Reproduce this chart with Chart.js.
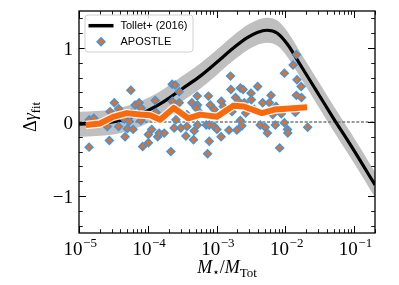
<!DOCTYPE html>
<html>
<head>
<meta charset="utf-8">
<script src="https://cdn.jsdelivr.net/npm/chart.js@4.4.1/dist/chart.umd.min.js"></script>
<style>
html,body{margin:0;padding:0;background:#fff;}
canvas{display:block;}
</style>
</head>
<body>
<canvas id="c" width="399" height="285"></canvas>
<script>
// ---------- data ----------
const xTickValues = [1e-5, 1e-4, 1e-3, 1e-2, 1e-1];
const xTickExps = ['\u22125', '\u22124', '\u22123', '\u22122', '\u22121'];
const yTickValues = [-1, 0, 1];
const yTickLabels = ['\u22121', '0', '1'];
const zeroLine = 0;

const tolletX = [1.0e-5,1.77e-5,3.13e-5,5.52e-5,9.77e-5,1.73e-4,3.16e-4,5.77e-4,9.87e-4,1.75e-3,2.79e-3,3.90e-3,5.40e-3,7.62e-3,1.07e-2,1.65e-2,2.91e-2,4.98e-2,8.81e-2,0.2];
const tolletY = [-0.03,-0.02,0.00,0.06,0.15,0.28,0.45,0.62,0.80,1.00,1.14,1.21,1.24,1.20,1.05,0.77,0.40,0.05,-0.31,-0.85];
const tolletUpper = [0.14,0.15,0.17,0.23,0.32,0.45,0.62,0.79,0.97,1.17,1.31,1.38,1.41,1.37,1.22,0.94,0.57,0.22,-0.14,-0.68];
const tolletLower = [-0.20,-0.19,-0.17,-0.11,-0.02,0.11,0.28,0.45,0.63,0.83,0.97,1.04,1.07,1.03,0.88,0.60,0.23,-0.12,-0.48,-1.02];

const medianX = [1.26e-5,2.02e-5,3.13e-5,4.94e-5,7.73e-5,1.08e-4,1.51e-4,2.38e-4,3.86e-4,5.77e-4,1.01e-3,1.75e-3,2.47e-3,4.56e-3,7.13e-3,2.06e-2];
const medianY = [-0.04,-0.02,0.07,0.12,0.10,0.09,0.03,0.19,0.05,0.10,0.07,0.22,0.21,0.12,0.17,0.20];

const apostleX = [1.41e-5,1.64e-5,1.40e-5,2.58e-5,2.76e-5,2.83e-5,3.26e-5,3.76e-5,3.78e-5,4.57e-5,
4.67e-5,5.05e-5,5.66e-5,5.85e-5,5.35e-5,6.11e-5,6.53e-5,7.47e-5,7.98e-5,7.91e-5,
8.83e-5,8.40e-5,1.02e-4,1.02e-4,1.14e-4,1.28e-4,1.32e-4,1.39e-4,1.46e-4,1.73e-4,
2.16e-4,2.26e-4,2.50e-4,2.86e-4,2.26e-4,2.86e-4,1.89e-4,2.45e-4,2.56e-4,2.41e-4,
3.02e-4,3.57e-4,3.70e-4,4.37e-4,3.70e-4,4.72e-4,4.61e-4,5.22e-4,5.27e-4,5.05e-4,
5.27e-4,5.77e-4,7.06e-4,7.60e-4,8.07e-4,7.80e-4,7.80e-4,7.38e-4,9.23e-4,1.03e-3,
9.23e-4,1.01e-3,1.16e-3,1.17e-3,1.25e-3,1.51e-3,1.59e-3,1.61e-3,1.67e-3,1.88e-3,
1.70e-3,2.08e-3,1.97e-3,2.21e-3,2.42e-3,2.21e-3,2.33e-3,2.52e-3,2.64e-3,3.16e-3,
3.19e-3,3.52e-3,3.94e-3,4.29e-3,5.07e-3,5.46e-3,4.66e-3,5.83e-3,6.17e-3,6.52e-3,
7.30e-3,7.13e-3,8.24e-3,8.71e-3,9.64e-3,9.64e-3,1.07e-2,1.08e-2,1.29e-2,1.44e-2,
1.47e-2,1.69e-2,1.44e-2,1.71e-2,1.39e-2,2.10e-2];
const apostleY = [0.03,0.05,-0.34,-0.06,-0.25,0.14,0.26,-0.06,0.18,0.04,
-0.20,-0.09,0.43,0.12,0.01,-0.10,0.23,0.26,0.19,0.02,
0.08,-0.33,-0.28,-0.17,-0.10,0.29,0.13,-0.20,-0.15,-0.15,
-0.40,0.51,0.50,0.41,0.28,0.26,0.12,0.17,0.03,-0.08,
-0.08,-0.19,0.10,0.26,-0.06,-0.12,-0.24,0.35,0.23,0.19,
-0.04,0.12,-0.04,0.35,0.23,-0.04,-0.26,-0.43,0.17,0.08,
-0.06,-0.10,-0.20,0.28,0.21,-0.11,0.62,0.44,0.14,0.33,
0.21,0.28,-0.11,0.46,0.44,0.02,-0.05,0.26,0.12,0.39,
0.30,0.17,0.48,-0.04,-0.07,-0.15,0.26,0.26,0.36,0.10,
0.21,-0.04,-0.35,0.11,0.66,-0.01,-0.10,-0.15,0.77,0.91,
0.57,0.48,0.36,0.33,0.13,-0.07];

// ---------- styles ----------
const ORANGE = '#fb6a0a';
const BLUE = '#3a96e8';
const SERIF = '"Liberation Serif", "DejaVu Serif", serif';
const SANS = '"Liberation Sans", Arial, sans-serif';

const pts = (xs, ys) => xs.map((x, i) => ({x: x, y: ys[i]}));

const deco = {
  id: 'deco',
  beforeDatasetsDraw(chart) {
    const {ctx, chartArea: a, scales: {y}} = chart;
    const py = y.getPixelForValue(zeroLine);
    ctx.save();
    ctx.strokeStyle = '#000';
    ctx.lineWidth = 0.8;
    ctx.setLineDash([3, 1.7]);
    ctx.beginPath(); ctx.moveTo(a.left, py); ctx.lineTo(a.right, py); ctx.stroke();
    ctx.restore();
  },
  afterDraw(chart) {
    const {ctx, chartArea: a, scales: {x, y}} = chart;
    ctx.save();
    // ticks
    ctx.strokeStyle = '#000';
    const tick = (px, isX, len, w) => {
      ctx.lineWidth = w;
      ctx.beginPath();
      if (isX) {
        ctx.moveTo(px, a.bottom); ctx.lineTo(px, a.bottom - len);
        ctx.moveTo(px, a.top); ctx.lineTo(px, a.top + len);
      } else {
        ctx.moveTo(a.left, px); ctx.lineTo(a.left + len, px);
        ctx.moveTo(a.right, px); ctx.lineTo(a.right - len, px);
      }
      ctx.stroke();
    };
    for (let k = -5; k <= -1; k++) {
      for (let m = 1; m <= 9; m++) {
        const v = m * Math.pow(10, k);
        if (v < x.min * 0.999 || v > x.max * 1.001) continue;
        const px = Math.round(x.getPixelForValue(v)) + 0.5;
        if (m === 1) tick(px, true, 7, 1); else tick(px, true, 3.8, 0.9);
      }
    }
    for (let i = -7; i <= 7; i++) {
      const v = i * 0.2;
      const py = Math.round(y.getPixelForValue(v)) + 0.5;
      tick(py, false, 3.8, 0.9);
    }
    yTickValues.forEach(v => {
      const py = Math.round(y.getPixelForValue(v)) + 0.5;
      tick(py, false, 7, 1);
    });
    // spines
    ctx.lineWidth = 1.3;
    ctx.strokeRect(a.left, a.top, a.right - a.left, a.bottom - a.top);

    // tick labels
    ctx.fillStyle = '#000';
    ctx.textBaseline = 'alphabetic';
    xTickValues.forEach((v, i) => {
      const px = x.getPixelForValue(v);
      ctx.font = '19px ' + SERIF;
      const w1 = ctx.measureText('10').width;
      ctx.font = '13px ' + SERIF;
      const w2 = ctx.measureText(xTickExps[i]).width;
      const x0 = px - (w1 + w2) / 2 + 1;
      ctx.font = '19px ' + SERIF;
      ctx.textAlign = 'left';
      ctx.fillText('10', x0, 255);
      ctx.font = '13px ' + SERIF;
      ctx.fillText(xTickExps[i], x0 + w1 + 0.5, 247);
    });
    ctx.font = '19px ' + SERIF;
    ctx.textAlign = 'right';
    yTickValues.forEach((v, i) => {
      const py = y.getPixelForValue(v);
      ctx.fillText(yTickLabels[i], 73, py + 6.5);
    });

    // x title: M_star / M_Tot
    const parts = [
      {t: 'M', f: 'italic 18px ' + SERIF, dy: 0},
      {t: '\u22C6', f: '12px "DejaVu Sans", sans-serif', dy: 3},
      {t: '/', f: '18px ' + SERIF, dy: 0},
      {t: 'M', f: 'italic 18px ' + SERIF, dy: 0},
      {t: 'Tot', f: '13px ' + SERIF, dy: 3.5}
    ];
    let tw = 0;
    parts.forEach(p => { ctx.font = p.f; p.w = ctx.measureText(p.t).width; tw += p.w; });
    let cx = (a.left + a.right) / 2 - tw / 2;
    ctx.textAlign = 'left';
    parts.forEach(p => { ctx.font = p.f; ctx.fillText(p.t, cx, 273 + p.dy); cx += p.w; });

    // y title: Delta gamma_fit
    ctx.save();
    ctx.translate(36, 117);
    ctx.rotate(-Math.PI / 2);
    const yp = [
      {t: '\u0394', f: '18px ' + SERIF, dy: 0},
      {t: '\u03B3', f: 'italic 18px ' + SERIF, dy: 0},
      {t: 'fit', f: '12.5px ' + SERIF, dy: 4}
    ];
    tw = 0;
    yp.forEach(p => { ctx.font = p.f; p.w = ctx.measureText(p.t).width; tw += p.w; });
    cx = -tw / 2;
    yp.forEach(p => { ctx.font = p.f; ctx.fillText(p.t, cx, p.dy); cx += p.w; });
    ctx.restore();

    // legend
    const ds = chart.data.datasets;
    const lx = 85, ly = 15, lw = 108, lh = 37, r = 3;
    ctx.beginPath();
    ctx.moveTo(lx + r, ly);
    ctx.arcTo(lx + lw, ly, lx + lw, ly + lh, r);
    ctx.arcTo(lx + lw, ly + lh, lx, ly + lh, r);
    ctx.arcTo(lx, ly + lh, lx, ly, r);
    ctx.arcTo(lx, ly, lx + lw, ly, r);
    ctx.closePath();
    ctx.fillStyle = 'rgba(255,255,255,0.8)';
    ctx.fill();
    ctx.strokeStyle = '#d0d0d0';
    ctx.lineWidth = 1;
    ctx.stroke();
    // entry 1
    const tol = ds.find(d => d.label === 'Tollet+ (2016)');
    ctx.strokeStyle = tol.borderColor;
    ctx.lineWidth = 3.5;
    ctx.beginPath(); ctx.moveTo(88.5, 25.7); ctx.lineTo(113.5, 25.7); ctx.stroke();
    // entry 2
    const apo = ds.find(d => d.label === 'APOSTLE');
    const dr = apo.pointRadius;
    ctx.beginPath();
    ctx.moveTo(101 - dr, 41.7); ctx.lineTo(101, 41.7 - dr); ctx.lineTo(101 + dr, 41.7); ctx.lineTo(101, 41.7 + dr); ctx.closePath();
    ctx.fillStyle = apo.backgroundColor; ctx.fill();
    ctx.strokeStyle = apo.borderColor; ctx.lineWidth = apo.borderWidth; ctx.stroke();
    ctx.fillStyle = '#000';
    ctx.font = '11px ' + SANS;
    ctx.textAlign = 'left';
    ctx.textBaseline = 'middle';
    ctx.fillText(tol.label, 120.5, 26);
    ctx.fillText(apo.label, 120.5, 42);
    ctx.restore();
  }
};

new Chart(document.getElementById('c'), {
  type: 'scatter',
  data: {
    datasets: [
      {
        label: 'band upper', data: pts(tolletX, tolletUpper), showLine: true,
        borderWidth: 0, pointRadius: 0, fill: false, cubicInterpolationMode: 'monotone',
        borderColor: 'rgba(0,0,0,0)', order: 6
      },
      {
        label: 'band lower', data: pts(tolletX, tolletLower), showLine: true,
        borderWidth: 0, pointRadius: 0, fill: '-1', cubicInterpolationMode: 'monotone',
        borderColor: 'rgba(0,0,0,0)', backgroundColor: 'rgba(128,128,128,0.5)', order: 5
      },
      {
        label: 'Tollet+ (2016)', data: pts(tolletX, tolletY), showLine: true,
        borderColor: '#000', borderWidth: 3.2, pointRadius: 0, cubicInterpolationMode: 'monotone',
        order: 4
      },
      {
        label: 'APOSTLE', data: pts(apostleX, apostleY), showLine: false,
        pointStyle: 'rectRot', pointRadius: 3.9, backgroundColor: ORANGE, borderColor: BLUE,
        borderWidth: 1.5, order: 3
      },
      {
        label: 'median halo', data: pts(medianX, medianY), showLine: true,
        borderColor: 'rgba(255,255,255,0.9)', borderWidth: 8.5, pointRadius: 0, tension: 0,
        borderJoinStyle: 'round', borderCapStyle: 'butt', order: 2
      },
      {
        label: 'median', data: pts(medianX, medianY), showLine: true,
        borderColor: ORANGE, borderWidth: 6, pointRadius: 0, tension: 0,
        borderJoinStyle: 'round', borderCapStyle: 'butt', order: 1
      }
    ]
  },
  options: {
    responsive: false,
    devicePixelRatio: 1,
    animation: false,
    layout: {padding: {left: 79, top: 11, right: 24, bottom: 52}},
    plugins: {legend: {display: false}, tooltip: {enabled: false}},
    scales: {
      x: {type: 'logarithmic', min: 1e-5, max: 0.2, display: false},
      y: {type: 'linear', min: -1.5, max: 1.5, display: false}
    }
  },
  plugins: [deco]
});
</script>
</body>
</html>
